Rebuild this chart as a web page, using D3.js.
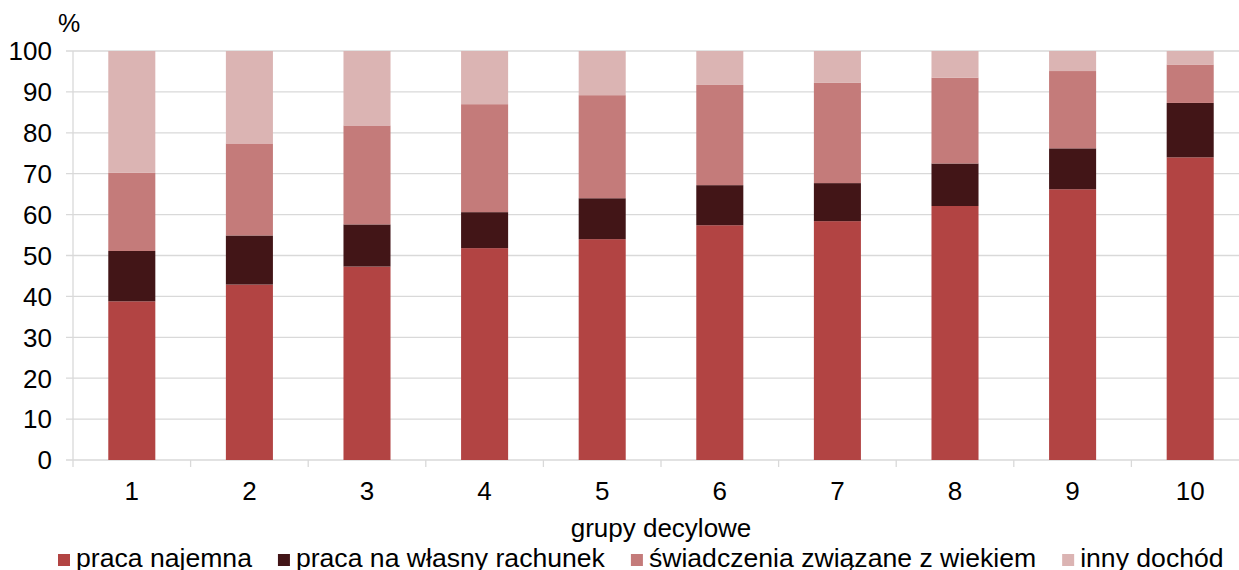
<!DOCTYPE html>
<html>
<head>
<meta charset="utf-8">
<script src="https://cdn.jsdelivr.net/npm/d3@7"></script>
<style>
  body { margin: 0; background: #fff; }
  svg { display: block; font-family: "Liberation Sans", Arial, sans-serif; }
</style>
</head>
<body>
<div id="chart"></div>
<script>
// decile groups
const categories = ["1", "2", "3", "4", "5", "6", "7", "8", "9", "10"];

// income shares, %
const pracaNajemna   = [38.8, 42.9, 47.3, 51.8, 54.0, 57.4, 58.4, 62.1, 66.2, 74.0];
const pracaWlasna    = [12.3, 12.0, 10.3,  8.8, 10.0,  9.8,  9.3, 10.4, 10.0, 13.3];
const swiadczenia    = [19.1, 22.5, 24.2, 26.4, 25.2, 24.5, 24.5, 21.0, 18.9,  9.4];
const innyDochod     = [29.8, 22.6, 18.2, 13.0, 10.8,  8.3,  7.8,  6.5,  4.9,  3.3];

const seriesNames = ["praca najemna", "praca na własny rachunek", "świadczenia związane z wiekiem", "inny dochód"];
const yTicks = [0, 10, 20, 30, 40, 50, 60, 70, 80, 90, 100];

const colors = ["#b24443", "#421517", "#c47b7a", "#dbb4b3"];

const W = 1239, H = 570;
const margin = { top: 51, left: 73, bottom: 110, right: -10 };

const svg = d3.select("#chart").append("svg")
  .attr("width", W)
  .attr("height", H);

const x = d3.scaleBand()
  .domain(categories)
  .range([margin.left, W - margin.right])
  .paddingInner(0.6)
  .paddingOuter(0.3);

const y = d3.scaleLinear()
  .domain([0, 100])
  .range([H - margin.bottom, margin.top]);

// build rows for stacking
const rows = categories.map((c, i) => ({
  cat: c,
  s0: pracaNajemna[i],
  s1: pracaWlasna[i],
  s2: swiadczenia[i],
  s3: innyDochod[i]
}));
const stack = d3.stack().keys(["s0", "s1", "s2", "s3"])(rows);

// gridlines + y ticks
svg.append("g")
  .selectAll("line")
  .data(yTicks)
  .join("line")
  .attr("x1", margin.left - 7)
  .attr("x2", W - margin.right)
  .attr("y1", d => y(d))
  .attr("y2", d => y(d))
  .attr("stroke", "#d9d9d9")
  .attr("stroke-width", 1.3);

// y axis line
svg.append("line")
  .attr("x1", margin.left).attr("x2", margin.left)
  .attr("y1", y(100)).attr("y2", y(0))
  .attr("stroke", "#d9d9d9")
  .attr("stroke-width", 1.3);

// x tick marks at band boundaries
const bounds = d3.range(categories.length + 1).map(i => x.range()[0] + i * x.step());
svg.append("g")
  .selectAll("line")
  .data(bounds)
  .join("line")
  .attr("x1", d => d).attr("x2", d => d)
  .attr("y1", y(0)).attr("y2", y(0) + 7)
  .attr("stroke", "#d9d9d9")
  .attr("stroke-width", 1.3);

// bars
svg.append("g")
  .selectAll("g")
  .data(stack)
  .join("g")
  .attr("fill", (d, i) => colors[i])
  .selectAll("rect")
  .data(d => d)
  .join("rect")
  .attr("x", d => x(d.data.cat))
  .attr("width", x.bandwidth())
  .attr("y", d => y(d[1]))
  .attr("height", d => y(d[0]) - y(d[1]));

// y labels
svg.append("g")
  .selectAll("text")
  .data(yTicks)
  .join("text")
  .attr("x", 52)
  .attr("y", d => y(d))
  .attr("dy", "0.36em")
  .attr("text-anchor", "end")
  .attr("font-size", 26)
  .attr("fill", "#000")
  .text(d => d);

svg.append("text")
  .attr("x", 58).attr("y", 32)
  .attr("font-size", 25)
  .text("%");

// x labels
svg.append("g")
  .selectAll("text")
  .data(categories)
  .join("text")
  .attr("x", d => x(d) + x.bandwidth() / 2)
  .attr("y", 500)
  .attr("text-anchor", "middle")
  .attr("font-size", 26)
  .text(d => d);

svg.append("text")
  .attr("x", (x.range()[0] + x.range()[1]) / 2)
  .attr("y", 537)
  .attr("text-anchor", "middle")
  .attr("font-size", 26)
  .text("grupy decylowe");

// legend
const legend = svg.append("g");
let lx = 58;
seriesNames.forEach((name, i) => {
  legend.append("rect")
    .attr("x", lx).attr("y", 554)
    .attr("width", 12).attr("height", 12)
    .attr("fill", colors[i]);
  const t = legend.append("text")
    .attr("x", lx + 18).attr("y", 567)
    .attr("font-size", 26.6)
    .text(name);
  lx += 18 + t.node().getComputedTextLength() + 26;
});
</script>
</body>
</html>
